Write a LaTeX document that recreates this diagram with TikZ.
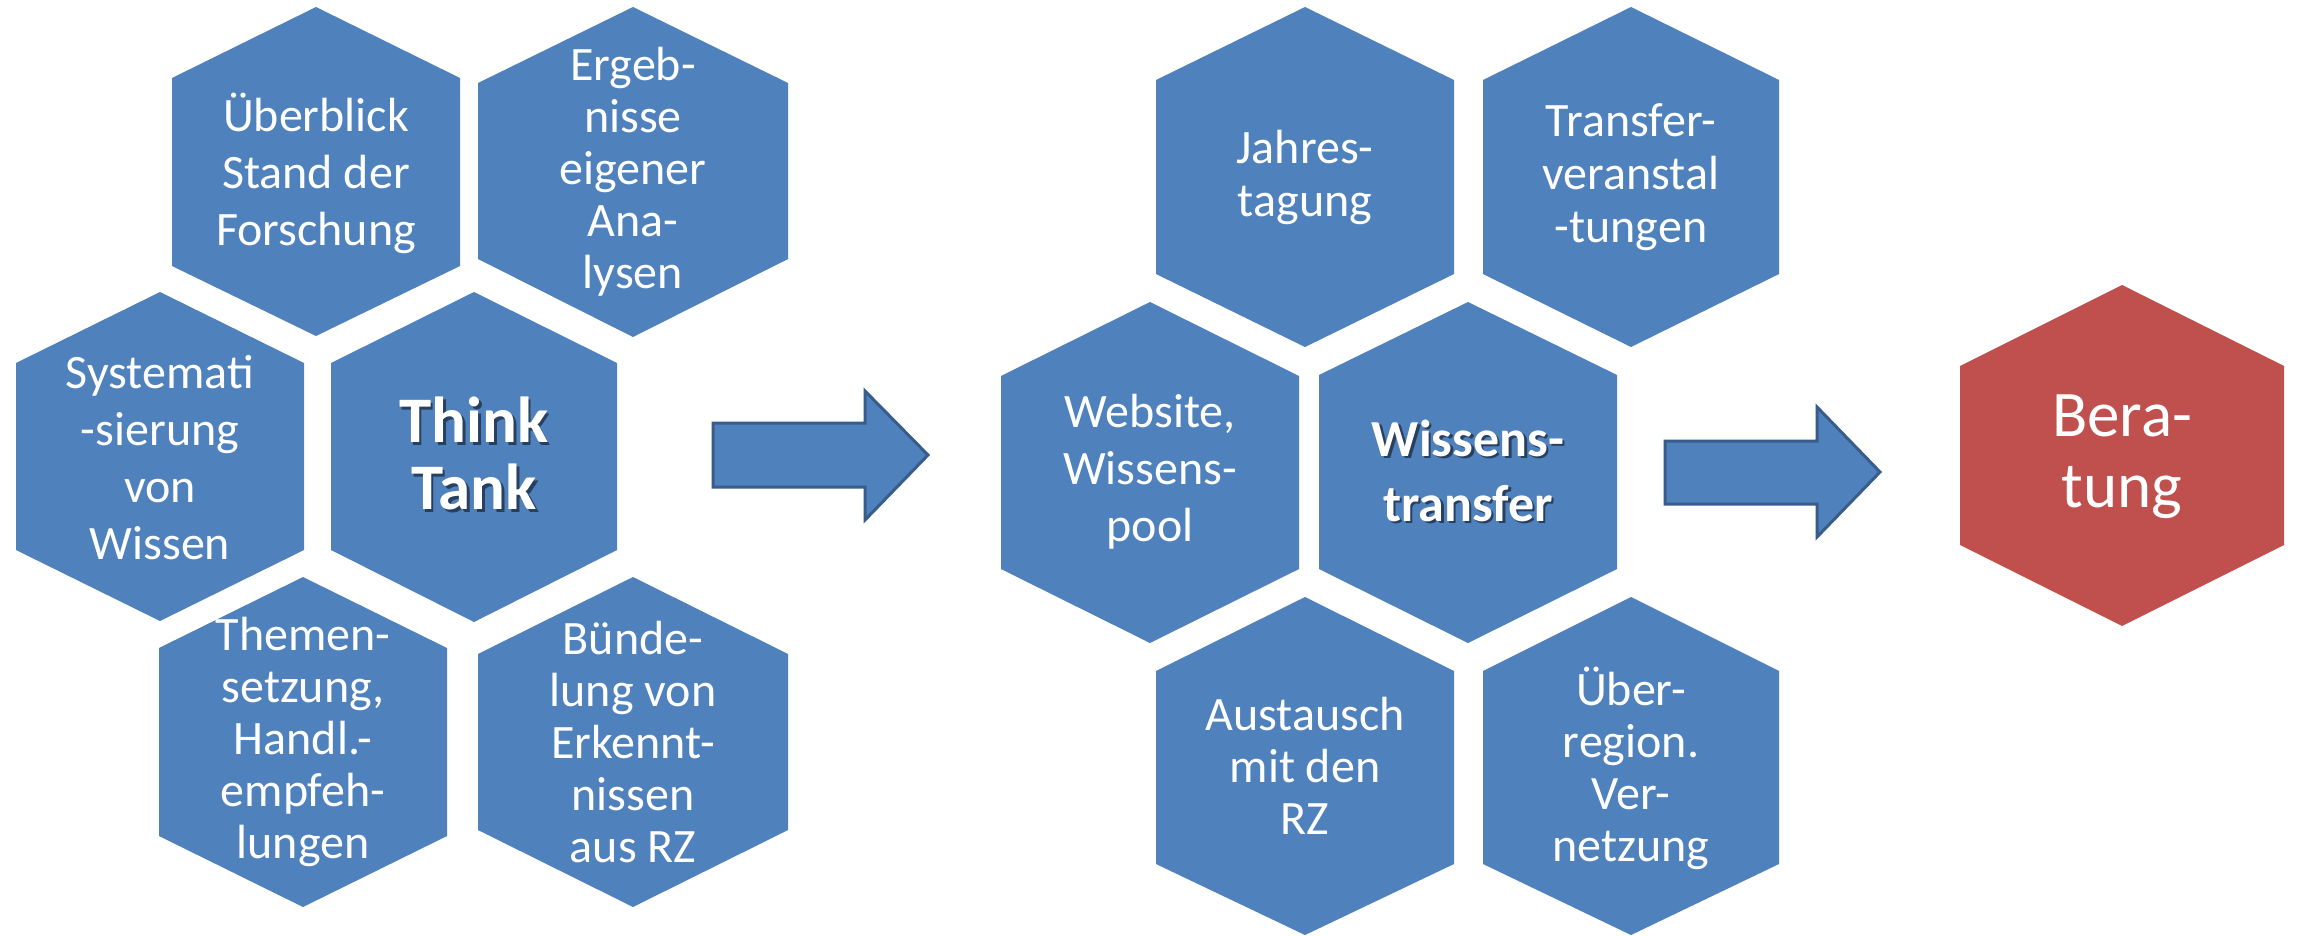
\documentclass[tikz,border=0pt]{standalone}
\usepackage{fontspec}
\setmainfont{Carlito}

\definecolor{cellblue}{HTML}{4F81BD}
\definecolor{cellred}{HTML}{C0504D}
\definecolor{arrowedge}{HTML}{385D8A}
\definecolor{textshade}{HTML}{27405F}

% white text with a dark drop shadow, one line at a time
\newcommand\shadowed[1]{\makebox[0pt][l]{\hspace{2.5pt}\raisebox{-2.5pt}{\textcolor{textshade}{#1}}}#1}

% hexagon with pointed top: #1 colour, #2 centre x, #3 half width,
% #4 top, #5 upper shoulder, #6 lower shoulder, #7 bottom
\newcommand\hexcell[7]{%
  \fill[#1] (#2,#4) -- ({#2+#3},#5) -- ({#2+#3},#6) -- (#2,#7)
    -- ({#2-#3},#6) -- ({#2-#3},#5) -- cycle;}

\tikzset{
  celltext/.style={text=white, align=center, inner sep=0pt},
  plain/.style={celltext, font=\fontsize{48}{#1}\selectfont},
  plain/.default=54,
  blockarrow/.style={fill=cellblue, draw=arrowedge, line width=3pt, line join=miter},
}

\begin{document}
\begin{tikzpicture}[x=1pt, y=-1pt]
\useasboundingbox (0,0) rectangle (2298,935);
\fill[white] (0,0) rectangle (2298,935);

% ---------- Think Tank cluster ----------
\hexcell{cellblue}{316}{144}{7}{78}{266}{336}
\hexcell{cellblue}{633}{155}{7}{83}{259}{337}
\hexcell{cellblue}{160}{144}{292}{363}{550}{621}
\hexcell{cellblue}{474}{143}{292}{363}{550}{622}
\hexcell{cellblue}{303}{144}{577}{648}{836}{907}
\hexcell{cellblue}{633}{155}{577}{654}{830}{907}

\node[plain=57] (ueberblick) at (316,173) {Überblick\\Stand der\\Forschung};
\node[plain=52] (ergebnisse) at (633,172) {Ergeb-\\nisse\\eigener\\Ana-\\lysen};
\node[plain=57] (systematik) at (160,458) {Systemati\\-sierung\\von\\Wissen};
\node[celltext, font=\bfseries\fontsize{65}{67}\selectfont] (thinktank) at (474,455)
  {\shadowed{Think}\\\shadowed{Tank}};
\node[plain=52] (themen) at (303,742) {Themen-\\setzung,\\Handl.-\\empfeh-\\lungen};
\node[plain=52] (buendelung) at (633,742) {Bünde-\\lung von\\Erkennt-\\nissen\\aus RZ};

% ---------- arrow to the transfer cluster ----------
\draw[blockarrow] (713,423) -- (865,423) -- (865,391) -- (928,455)
  -- (865,520) -- (865,487) -- (713,487) -- cycle;

% ---------- Wissenstransfer cluster ----------
\hexcell{cellblue}{1305}{149}{7}{80}{274}{347}
\hexcell{cellblue}{1631}{148}{7}{80}{274}{347}
\hexcell{cellblue}{1150}{149}{302}{376}{569}{643}
\hexcell{cellblue}{1468}{149}{302}{375}{569}{643}
\hexcell{cellblue}{1305}{149}{597}{671}{864}{935}
\hexcell{cellblue}{1631}{148}{597}{671}{864}{935}

\node[plain=53] (jahrestagung) at (1305,177) {Jahres-\\tagung};
\node[plain=53] (veranstaltungen) at (1631,177) {Transfer-\\veranstal\\-tungen};
\node[plain=57] (website) at (1150,472) {Website,\\Wissens-\\pool};
\node[celltext, font=\bfseries\fontsize{52}{65}\selectfont] (transfer) at (1468,472)
  {\shadowed{Wissens-}\\\shadowed{transfer}};
\node[plain=52] (austausch) at (1305,766) {Austausch\\mit den\\RZ};
\node[plain=52] (vernetzung) at (1631,768) {Über-\\region.\\Ver-\\netzung};

% ---------- arrow to Beratung ----------
\draw[blockarrow] (1665,441) -- (1817,441) -- (1817,407) -- (1880,472)
  -- (1817,537) -- (1817,504) -- (1665,504) -- cycle;

% ---------- Beratung ----------
\hexcell{cellred}{2122}{162}{285}{366}{545}{626}
\node[celltext, font=\fontsize{65}{71}\selectfont] (beratung) at (2122,457) {Bera-\\tung};
\end{tikzpicture}
\end{document}
